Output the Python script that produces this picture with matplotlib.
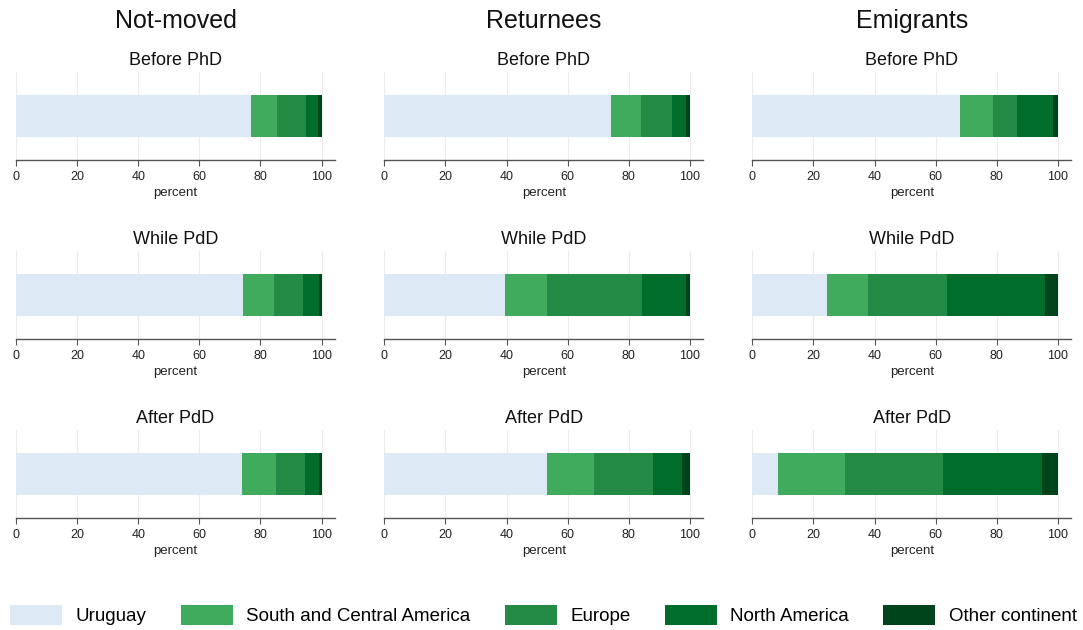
import matplotlib
matplotlib.use("Agg")
import matplotlib.pyplot as plt
from matplotlib.patches import Patch

plt.rcParams['font.family'] = ['Liberation Sans', 'DejaVu Sans']

groups = ["Not-moved", "Returnees", "Emigrants"]
periods = ["Before PhD", "While PdD", "After PdD"]
regions = ["Uruguay", "South and Central America", "Europe", "North America", "Other continent"]
colors = ["#dde9f5", "#41ab5d", "#238b45", "#006d2c", "#00441b"]

# percent shares by region; rows = period, one list per group
not_moved = [
    [76.9, 8.5, 9.5, 3.9, 1.2],
    [74.4, 10.0, 9.6, 5.2, 0.8],
    [74.0, 11.1, 9.4, 4.7, 0.8],
]
returnees = [
    [74.2, 9.8, 10.1, 4.8, 1.1],
    [39.4, 13.8, 31.1, 14.6, 1.1],
    [53.2, 15.3, 19.6, 9.4, 2.5],
]
emigrants = [
    [67.9, 10.9, 7.8, 11.8, 1.6],
    [24.6, 13.2, 26.0, 31.9, 4.3],
    [8.3, 22.0, 32.1, 32.4, 5.2],
]
data = [not_moved, returnees, emigrants]
xticks = [0, 20, 40, 60, 80, 100]

W, H = 1083, 630
fig = plt.figure(figsize=(W / 100, H / 100), dpi=100)

col_left = [16, 384.3, 752.3]
row_top = [72, 251, 430]
ax_w, ax_h = 319, 88

for c, g in enumerate(groups):
    cx = col_left[c] + ax_w / 2
    fig.text(cx / W, 1 - 21 / H, g, ha="center", va="center", fontsize=18, color="#111111")
    for r, p in enumerate(periods):
        ax = fig.add_axes([col_left[c] / W, 1 - (row_top[r] + ax_h) / H, ax_w / W, ax_h / H])
        vals = data[c][r]
        left = 0.0
        for v, col in zip(vals, colors):
            ax.barh(0.5, v, left=left, height=0.48, color=col, edgecolor="none", zorder=3)
            left += v
        ax.set_xlim(0, 104.4)
        ax.set_ylim(0, 1)
        ax.set_yticks([])
        ax.set_xticks(xticks)
        ax.set_xticklabels([str(t) for t in xticks], fontsize=9, color="#222222")
        ax.grid(axis="x", color="#ececec", linewidth=0.8, zorder=0)
        for s in ["top", "right", "left"]:
            ax.spines[s].set_visible(False)
        ax.spines["bottom"].set_color("#555555")
        ax.spines["bottom"].set_linewidth(1.0)
        ax.tick_params(axis="x", length=4, width=0.8, color="#555555", pad=4)
        ax.set_xlabel("percent", fontsize=9.5, color="#222222", labelpad=3)
        ax.set_title(p, fontsize=13, color="#111111", pad=5)

handles = [Patch(facecolor=col, edgecolor="none") for col in colors]
fig.legend(handles, regions, loc="center left", bbox_to_anchor=(10 / W, 1 - 615 / H),
           ncol=5, frameon=False, fontsize=13.5, handlelength=2.77, handleheight=1.33,
           handletextpad=0.72, columnspacing=1.83, borderaxespad=0, borderpad=0)

fig.savefig("out.png", dpi=100, facecolor="white")
